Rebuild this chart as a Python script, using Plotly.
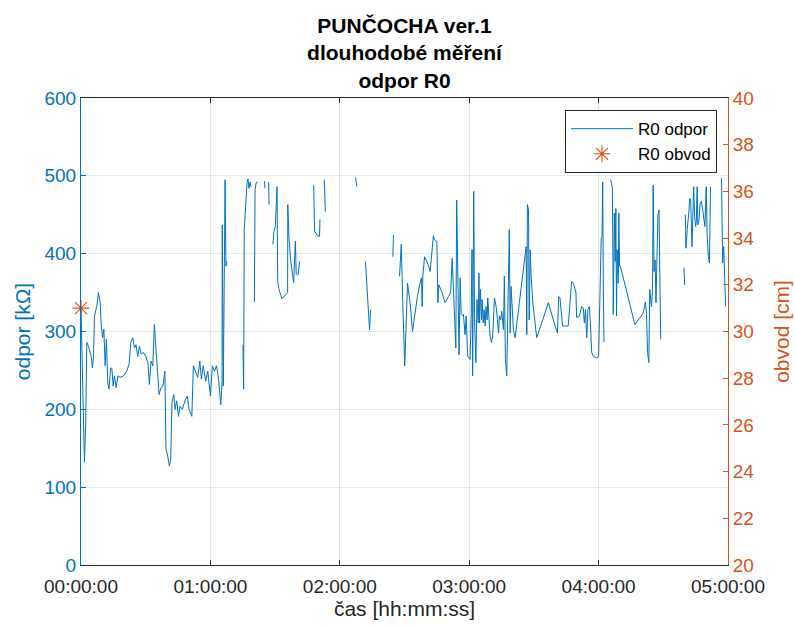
import pandas as pd
import plotly.graph_objects as go

# R0 resistance log: time from start (minutes) and resistance (kOhm); None = sensor dropout
t_min = [
    0, 0.7, 1.6, 2.2, 2.7, 3.5, 4.7, 5.3, 5.8, 6.25, 7.3, 8.1, 8.9, 9.3, 10.0, 10.6, 11.2, 11.8,
    12.4, 13.0, 13.7, 14.3, 14.9, 15.5, 16.3, 17.1, 18.1, 19.7, 21.2, 22.3, 23.1, 24.0, 24.8,
    25.5, 26.3, 27.1, 27.9, 29.0, 30.0, 31.0, 31.7, 32.5, 33.3, 34.0, 34.6, 35.4, 36.2, 37.1,
    38.0, 38.9, 39.4, 40.2, 41.0, 41.6, 42.2, 43.0, 43.6, 44.4, 45.2, 45.9, 47.0, 48.2, 49.3,
    50.1, 51.4, 52.1, 53.2, 54.1, 55.1, 55.8, 56.7, 57.8, 58.8, 60.0, 60.9, 61.9, 62.8, 63.6,
    64.2, 64.8, 65.4, 65.5, 66.0, 66.5, 66.8, 67.2, 67.7, None,
    75.1, 75.4, 75.7, 76.4, 77.0, 77.4, 77.9, 78.4, 78.8, None,
    80.4, 80.7, 81.2, 81.9, None,
    85.1, 85.3, None,
    87.0, 87.2, None,
    89.0, 89.4, 90.1, 90.9, 91.2, 91.8, 93.2, 94.6, 95.8, 95.9, 96.4, 97.2, 97.8, 98.6, 99.4,
    99.8, None,
    100.6, 101.4, None,
    107.9, 108.3, 109.4, 110.6, 110.8, None,
    112.8, 113.3, None,
    127.3, 127.9, None,
    131.9, 133.0, 133.8, 134.3, None,
    144.6, 144.9, None,
    147.7, 147.9, 148.5, 149.2, 150.1, 151.4, 152.6, 153.7, 154.9, 156.0, 157.2, 157.9, 158.2,
    158.5, 159.3, 160.7, 161.9, 162.7, 163.1, 163.4, 163.9, 165.0, 165.5, 165.9, 167.3, 168.8,
    170.4, 171.4, 172.1, 173.0, 173.8, 174.2, 174.7, 175.3, 175.8, 176.3, 177.0, 177.3, 178.1,
    178.6, 179.3, 180.4, 180.9, 181.3, 181.6, 182.1, 182.5, 183.1, 183.6, 184.2, 184.5, 184.8,
    185.2, 185.7, 186.0, 186.5, 186.9, 187.4, 187.8, 188.3, 188.6, 189.1, 189.7, 190.3, 190.9,
    191.7, 192.5, 193.1, 193.6, 194.0, 194.6, 195.1, 195.9, 196.3, 196.8, 197.4, 197.9, 198.3,
    198.6, 199.0, 199.4, 199.9, 200.5, 201.3, 203.6, 205.9, 206.4, 206.7, 207.0, 207.5, 207.8,
    208.3, 208.7, 209.5, 210.6, 211.3, 214.1, 216.7, 219.0, 220.9, 221.5, 222.1, 223.3, 225.9,
    227.5, 228.3, 229.5, 229.8, 231.1, 232.2, 232.9, 233.4, 233.9, 234.5, 235.0, 235.7, 236.2,
    236.8, 237.6, 239.1, 240.0, 240.7, 241.2, 241.6, 241.9, 242.2, 242.5, None,
    245.6, 246.4, 246.8, 247.3, 247.7, 248.0, 248.3, 248.6, 249.1, 249.4, 249.7, 250.1, 256.8,
    259.1, 260.6, 261.7, 262.2, 262.7, 263.3, 263.7, 264.2, 264.5, 265.0, 265.3, 265.7, 266.2,
    266.6, 267.1, 267.5, 268.0, 268.3, 268.8, None,
    279.6, 279.9, None,
    280.2, 280.5, 281.1, 281.5, 281.8, 282.3, 282.7, 283.3, 284.1, 284.5, 285.0, 285.3, 285.7,
    286.0, 286.5, 287.1, 287.7, 288.3, 288.8, 289.3, 289.9, 290.3, 290.9, 291.4, 291.9, None,
    297.0, 297.5, 298.0, 298.4, 298.9,
]
r0_odpor = [
    330, 226, 132, 183, 286, 281, 268, 253, 268, 320, 332, 350, 337, 311, 292, 303, 256, 290,
    234, 226, 253, 253, 230, 243, 228, 243, 241, 243, 249, 258, 286, 292, 279,
    283, 268, 281, 271, 273, 268, 260, 232, 262, 256, 309, 286, 243, 219, 228,
    230, 249, 149, 140, 127, 136, 209, 219, 200, 211, 191, 204, 200, 211, 217,
    200, 191, 256, 247, 241, 262, 239, 256, 236, 249, 217, 256, 249, 256, 243,
    226, 206, 234, 437, 230, 354, 495, 384, 390, None,
    283, 226, 431, 474, 491, 496, 484, 492, 486, None,
    338, 482, 491, 492, None,
    493, 484, None,
    492, 463, None,
    412, 427, 435, 486, 365, 354, 342, 347, 350, 463, 422, 392, 377, 363, 416,
    373, None,
    372, 390, None,
    488, 429, 424, 422, 444, None,
    495, 454, None,
    498, 486, None,
    390, 340, 302, 328, None,
    396, 424, None,
    371, 386, 412, 337, 256, 362, 337, 300, 326, 345, 362, 369, 332,
    371, 396, 388, 377, 405, 409, 423, 418, 416, 337, 360, 351, 337,
    345, 350, 394, 337, 279, 469, 354, 270, 369, 322, 320, 322, 296,
    320, 268, 264, 315, 405, 243, 480, 311, 260, 341, 311, 375, 311,
    354, 315, 341, 311, 328, 307, 332, 315, 343, 320, 294, 286, 294,
    343, 332, 315, 298, 320, 315, 326, 302, 371, 264, 243, 354, 384,
    431, 298, 358, 337, 302, 292, 345, 405, 409, 296, 463, 456, 315,
    405, 371, 337, 311, 292, 315, 337, 315, 298, 345, 343, 307, 307,
    364, 362, 350, 318, 320, 332, 330, 311, 328, 292, 328, 332, 311,
    273, 268, 266, 268, 384, 420, 422, 492, 354, 286, None,
    495, 484, 322, 452, 390, 458, 320, 405, 362, 452, 384, 384, 309,
    318, 323, 338, 323, 273, 260, 354, 341, 332, 354, 488, 377, 392,
    337, 422, 450, 456, 396, 290, None,
    382, 360, None,
    450, 407, 431, 450, 452, 471, 469, 409, 486, 448, 435, 441, 486,
    437, 441, 465, 467, 456, 448, 435, 486, 426, 396, 388, 486, None,
    497, 388, 409, 371, 332,
]

# circumference reading (cm)
t_obvod = [0]
r0_obvod = [31]

# hourly ticks of the time axis
tick_hours = [0, 1, 2, 3, 4, 5]
tick_labels = ["00:00:00", "01:00:00", "02:00:00", "03:00:00", "04:00:00", "05:00:00"]

BLUE = "#0072BD"
ORANGE = "#D95319"
DARK = "#262626"
FONT = "Arial, 'Liberation Sans', Helvetica, sans-serif"

start = pd.Timestamp("2000-01-01 00:00:00")


def to_time(minutes):
    return [None if m is None else (start + pd.Timedelta(minutes=m)).isoformat() for m in minutes]


fig = go.Figure()
fig.add_trace(go.Scatter(
    x=to_time(t_min), y=r0_odpor, mode="lines", name="R0 odpor",
    line=dict(color=BLUE, width=1), connectgaps=False, yaxis="y",
))
fig.add_trace(go.Scatter(
    x=to_time(t_obvod), y=r0_obvod, mode="markers", name="R0 obvod",
    marker=dict(symbol="asterisk-open", size=14, color=ORANGE, line=dict(color=ORANGE, width=1.1)),
    yaxis="y2", cliponaxis=False,
))

fig.update_layout(
    width=795, height=627,
    margin=dict(l=81, r=67, t=98, b=62, autoexpand=False),
    paper_bgcolor="white", plot_bgcolor="white",
    font=dict(family=FONT, size=19, color=DARK),
    title=dict(
        text="<b>PUNČOCHA ver.1</b><br><b>dlouhodobé měření</b><br><b>odpor R0</b>",
        x=(81 + 728) / 2 / 795, xanchor="center",
        y=1 - 33 / 627, yanchor="top", yref="container",
        font=dict(family=FONT, size=21, color="black"),
    ),
    xaxis=dict(
        type="date", automargin=False,
        range=[start.isoformat(), (start + pd.Timedelta(hours=5)).isoformat()],
        tickvals=[(start + pd.Timedelta(hours=h)).isoformat() for h in tick_hours],
        ticktext=tick_labels,
        showgrid=True, gridcolor="rgba(38,38,38,0.12)", gridwidth=1,
        showline=True, linecolor=DARK, linewidth=1, mirror="ticks",
        ticks="inside", ticklen=5, tickcolor=DARK,
        tickfont=dict(size=19, color=DARK), ticklabelstandoff=4,
        title=dict(text="čas [hh:mm:ss]", font=dict(size=21, color=DARK), standoff=4),
        zeroline=False,
    ),
    yaxis=dict(
        range=[0, 600], dtick=100, automargin=False,
        showgrid=True, gridcolor="rgba(0,114,189,0.13)", gridwidth=1,
        showline=True, linecolor=BLUE, linewidth=1,
        ticks="inside", ticklen=5, tickcolor=BLUE,
        tickfont=dict(size=19, color=BLUE),
        title=dict(text="odpor [kΩ]", font=dict(size=21, color=BLUE), standoff=8),
        zeroline=False,
    ),
    yaxis2=dict(
        range=[20, 40], dtick=2, overlaying="y", side="right", automargin=False,
        showgrid=False,
        showline=True, linecolor=ORANGE, linewidth=1,
        ticks="inside", ticklen=5, tickcolor=ORANGE,
        tickfont=dict(size=19, color=ORANGE),
        title=dict(text="obvod [cm]", font=dict(size=21, color=ORANGE), standoff=20),
        zeroline=False,
    ),
    legend=dict(
        x=0.983, y=0.974, xanchor="right", yanchor="top",
        bgcolor="white", bordercolor=DARK, borderwidth=1,
        font=dict(size=17, color="black"),
        itemwidth=62, tracegroupgap=0,
    ),
    showlegend=True,
)

fig.write_html("out.html")
